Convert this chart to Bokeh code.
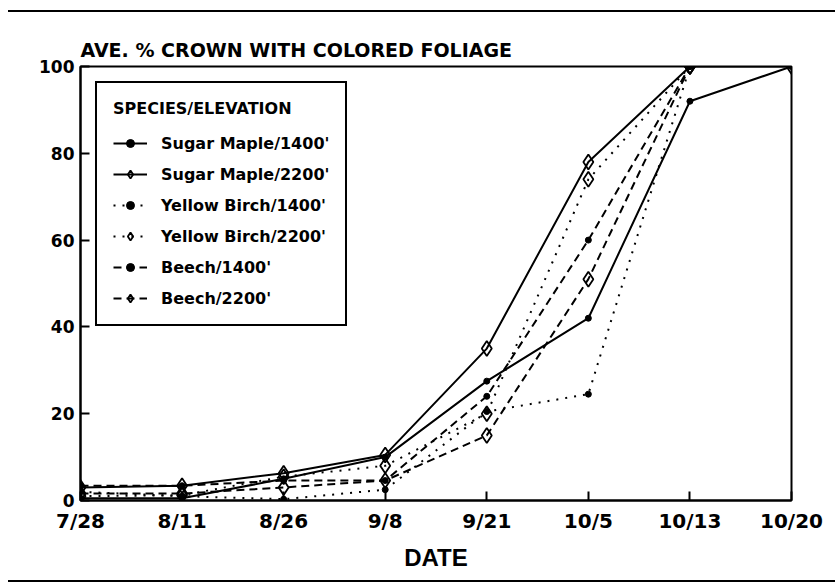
from bokeh.plotting import figure
from bokeh.models import Range1d, FixedTicker, Legend, LegendItem, BoxAnnotation
from bokeh.embed import file_html
from bokeh.resources import INLINE

NaN = float("nan")
dates = ["7/28", "8/11", "8/26", "9/8", "9/21", "10/5", "10/13", "10/20"]
y_ticks = [0, 20, 40, 60, 80, 100]

sugar_maple_1400 = [0.5, 0.5, 5, 10, 27.5, 42, 92, 100]
sugar_maple_2200 = [3, 3.4, 6.3, 10.5, 35, 78, 100, 100]
yellow_birch_1400 = [2, 1, 0.3, 2.5, 20.5, 24.5, 100, NaN]
yellow_birch_2200 = [1, 1.2, 5.5, 8, 20, 74, 100, NaN]
beech_1400 = [3.4, 3.4, 4.6, 4.6, 24, 60, 100, NaN]
beech_2200 = [1.6, 1.6, 3, 4.6, 15, 51, 100, NaN]

series = [
    ("Sugar Maple/1400'", sugar_maple_1400, "solid", "dot"),
    ("Sugar Maple/2200'", sugar_maple_2200, "solid", "diamond"),
    ("Yellow Birch/1400'", yellow_birch_1400, "2 7", "dot"),
    ("Yellow Birch/2200'", yellow_birch_2200, "2 7", "diamond"),
    ("Beech/1400'", beech_1400, "8 5", "dot"),
    ("Beech/2200'", beech_2200, "8 5", "diamond"),
]

WIDE = "DejaVu Sans"
NARROW = "Liberation Sans"
x = list(range(len(dates)))

p = figure(width=835, height=584, output_backend="svg", toolbar_location=None,
           x_range=Range1d(0, len(dates) - 1), y_range=Range1d(0, 100),
           min_border_left=80, min_border_right=44, min_border_top=66, min_border_bottom=84)

p.title.text = "AVE. % CROWN WITH COLORED FOLIAGE"
p.title.text_font = WIDE
p.title.text_font_size = "19px"
p.title.text_font_style = "bold"
p.title.text_color = "black"
p.title.align = "left"
p.title.standoff = 12
p.title.offset = 0

p.grid.visible = False
p.outline_line_color = "black"
p.outline_line_width = 2
p.background_fill_color = "white"
p.border_fill_alpha = 0.0

p.xaxis.ticker = FixedTicker(ticks=x)
p.xaxis.major_label_overrides = {i: d for i, d in zip(x, dates)}
p.yaxis.ticker = FixedTicker(ticks=y_ticks)
for ax in (p.xaxis[0], p.yaxis[0]):
    ax.major_tick_in = 9
    ax.major_tick_out = 0
    ax.minor_tick_in = 0
    ax.minor_tick_out = 0
    ax.axis_line_width = 2
    ax.major_tick_line_width = 2
    ax.major_label_text_font = WIDE
    ax.major_label_text_font_style = "bold"
    ax.major_label_text_color = "black"
p.xaxis.major_label_text_font_size = "20px"
p.yaxis.major_label_text_font_size = "17px"
p.xaxis.major_label_standoff = 8
p.yaxis.major_label_standoff = 6
p.xaxis.axis_label = "DATE"
p.xaxis.axis_label_text_font = NARROW
p.xaxis.axis_label_text_font_style = "bold"
p.xaxis.axis_label_text_font_size = "24px"
p.xaxis.axis_label_text_color = "black"
p.xaxis.axis_label_standoff = 8

items = []
for name, vals, dash, mk in series:
    r_line = p.line(x, vals, line_color="black", line_width=2, line_dash=dash)
    if mk == "dot":
        r_mk = p.scatter(x, vals, marker="circle", size=6, fill_color="black", line_color="black")
    else:
        r_mk = p.scatter(x, vals, marker="diamond", size=15, fill_color="white", fill_alpha=0.0,
                         line_color="black", line_width=1.8)
    items.append(LegendItem(label=name, renderers=[r_line, r_mk]))

legend = Legend(items=items, location="top_left", margin=15,
                title="SPECIES/ELEVATION", title_text_font=WIDE, title_text_font_style="bold",
                title_text_font_size="16px", title_text_color="black", title_standoff=15,
                label_text_font=WIDE, label_text_font_style="bold", label_text_font_size="16px",
                label_text_color="black",
                glyph_width=34, glyph_height=20, label_height=20, label_standoff=14, spacing=11,
                padding=16, border_line_color="black", border_line_width=2, border_line_alpha=1.0,
                background_fill_color="white", background_fill_alpha=1.0)
p.add_layout(legend)

# outer page border (left edge) drawn in canvas units
p.add_layout(BoxAnnotation(left=8, right=10, top=10, bottom=582,
                           left_units="canvas", right_units="canvas",
                           top_units="canvas", bottom_units="canvas",
                           fill_color="black", fill_alpha=1.0, line_alpha=0.0))

line_bg = "linear-gradient(#000,#000)"
p.styles = {
    "background-color": "#fff",
    "background-image": f"{line_bg}, {line_bg}",
    "background-position": "8px 10px, 8px 580px",
    "background-size": "827px 2px, 827px 2px",
    "background-repeat": "no-repeat, no-repeat",
}

open("out.html", "w").write(file_html(p, INLINE))
